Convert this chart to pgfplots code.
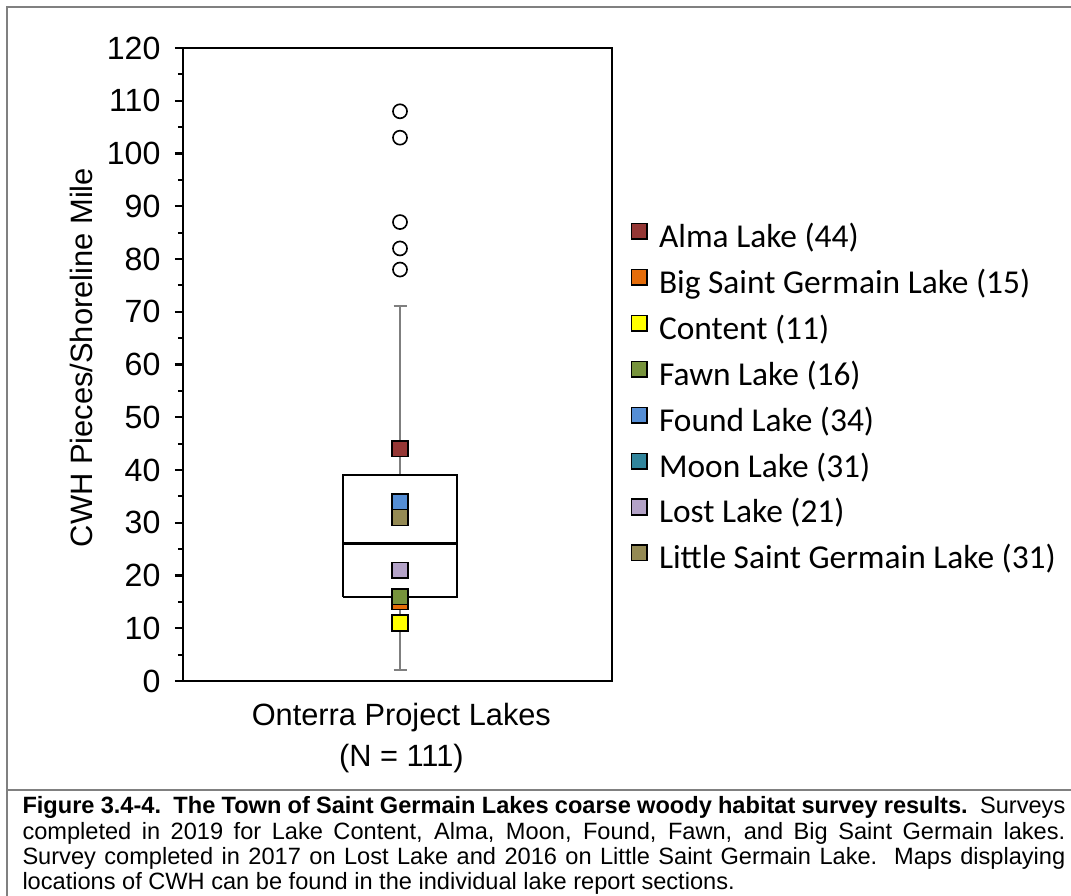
\documentclass[border=0pt]{standalone}
\usepackage{pgfplots}
\pgfplotsset{compat=1.18}
\usepackage{fontspec}
\setmainfont{Liberation Sans}
\newfontfamily\carlito{Carlito}

\definecolor{almac}{HTML}{953735}
\definecolor{bigsgc}{HTML}{E46C0A}
\definecolor{contentc}{HTML}{FFFF00}
\definecolor{fawnc}{HTML}{77933C}
\definecolor{foundc}{HTML}{558ED5}
\definecolor{moonc}{HTML}{31859C}
\definecolor{lostc}{HTML}{B3A2C7}
\definecolor{lsgc}{HTML}{948A54}
\definecolor{framec}{HTML}{808080}
\definecolor{whiskc}{HTML}{7F7F7F}

\pgfplotsset{
  lake/.style={only marks, mark=square*, mark size=3.1pt,
    mark options={fill=#1, draw=black, line width=0.6pt}},
}
\newcommand\tickfont{\fontsize{12.8}{15}\selectfont}

\begin{document}
\begin{tikzpicture}
% 1 px of the reference = 0.014cm
\useasboundingbox (0,0) rectangle (14.994cm,12.544cm);
% frame and caption box
\draw[framec, line width=0.8pt] (0.098cm,0) -- (0.098cm,12.446cm) -- (14.994cm,12.446cm);
\draw[framec, line width=0.8pt] (0.098cm,1.484cm) -- (14.994cm,1.484cm);

\begin{axis}[
  at={(2.562cm,3.01cm)}, anchor=south west,
  scale only axis, width=6.006cm, height=8.862cm,
  xmin=0, xmax=429, ymin=0, ymax=120,
  xtick=\empty,
  ytick={0,10,...,120}, minor ytick={5,15,...,115},
  yticklabel={\tickfont\pgfmathprintnumber[assume math mode=true]{\tick}},
  ytick pos=left,
  tick align=outside,
  major tick length=0.112cm, minor tick length=0.07cm,
  every tick/.style={black, line width=0.8pt},
  axis line style={black, line width=0.8pt},
  yticklabel style={font=\tickfont, xshift=-0.08cm},
  ylabel={CWH Pieces/Shoreline Mile},
  ylabel style={at={(axis description cs:-0.2098,0.511)}, anchor=base,
    font=\fontsize{12.3}{14}\selectfont},
  xlabel={Onterra Project Lakes\\(N = 111)},
  xlabel style={at={(axis description cs:0.509,-0.0348)}, anchor=north,
    align=center, inner sep=0pt, font=\fontsize{12.25}{16.3}\selectfont},
  legend cell align=left,
  legend image code/.code={\draw[#1] plot coordinates {(0.112cm,0.1cm)};},
  legend style={at={(axis description cs:1.0443,0.445)}, anchor=west,
    draw=none, fill=none, inner sep=0pt, row sep=5.3pt, column sep=0.168cm,
    font=\carlito\fontsize{13.3}{16}\selectfont,
    nodes={inner sep=0pt, text height=10pt, text depth=3pt}},
]
% box: Q1 16, median 26, Q3 39; whiskers 2 and 71
\addplot[forget plot, whiskc, line width=0.8pt] coordinates {(217,39) (217,71)};
\addplot[forget plot, whiskc, line width=0.8pt] coordinates {(210.5,71) (223.5,71)};
\addplot[forget plot, whiskc, line width=0.8pt] coordinates {(217,2) (217,16)};
\addplot[forget plot, whiskc, line width=0.8pt] coordinates {(210.5,2) (223.5,2)};
\addplot[forget plot, black, line width=0.8pt] coordinates {(160,16) (274,16) (274,39) (160,39) (160,16)};
\addplot[forget plot, black, line width=1.2pt] coordinates {(160,26) (274,26)};
% outliers
\addplot[forget plot, only marks, mark=*, mark size=2.8pt,
  mark options={draw=black, fill=white, line width=0.65pt}]
  coordinates {(217,78) (217,82) (217,87) (217,103) (217,108)};

\addplot[lake=almac] coordinates {(217,44)};
\addlegendentry{Alma Lake (44)}
\addplot[lake=bigsgc] coordinates {(217,15)};
\addlegendentry{Big Saint Germain Lake (15)}
\addplot[lake=contentc] coordinates {(217,11)};
\addlegendentry{Content (11)}
\addplot[lake=fawnc] coordinates {(217,16)};
\addlegendentry{Fawn Lake (16)}
\addplot[lake=foundc] coordinates {(217,34)};
\addlegendentry{Found Lake (34)}
\addplot[lake=moonc] coordinates {(217,31)};
\addlegendentry{Moon Lake (31)}
\addplot[lake=lostc] coordinates {(217,21)};
\addlegendentry{Lost Lake (21)}
\addplot[lake=lsgc] coordinates {(217,31)};
\addlegendentry{Little Saint Germain Lake (31)}
\end{axis}

\node[anchor=base west, inner sep=0pt] at (0.308cm,1.15cm) {\parbox[t]{14.6cm}{%
  \fontsize{9.4}{10.1}\selectfont\hyphenpenalty=10000\emergencystretch=2em
  \textbf{Figure 3.4-4.\ \ The Town of Saint Germain Lakes coarse woody habitat survey results.}\ \ Surveys\linebreak
  completed in 2019 for Lake Content, Alma, Moon, Found, Fawn, and Big Saint Germain lakes.\linebreak
  Survey completed in 2017 on Lost Lake and 2016 on Little Saint Germain Lake.\ \ Maps displaying\linebreak
  locations of CWH can be found in the individual lake report sections.}};
\end{tikzpicture}
\end{document}
